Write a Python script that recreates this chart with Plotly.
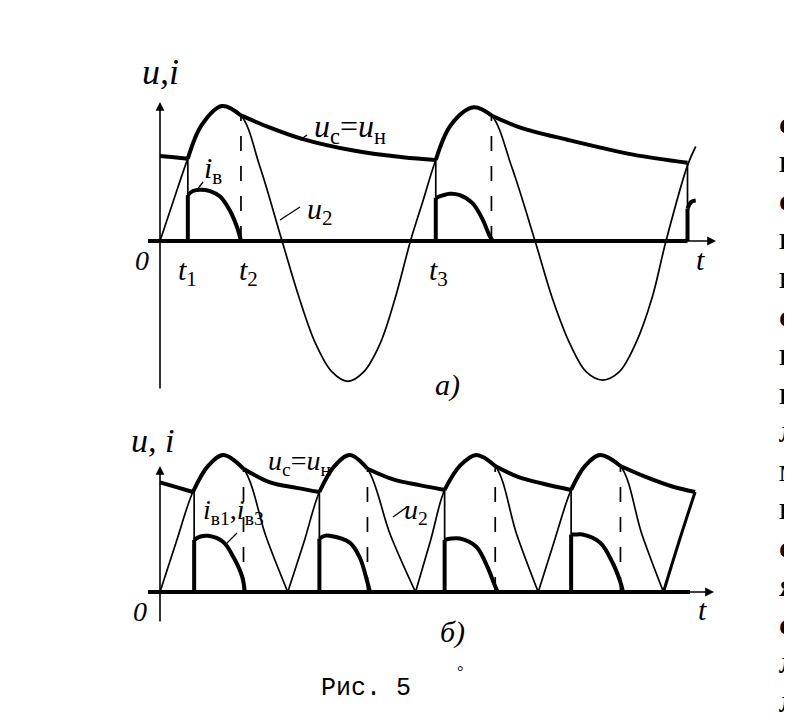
import plotly.graph_objects as go

# ---------------- data (time in ms, values in relative units) ----------------
# panel a) : half-wave rectifier
ta_u2 = [0, 1.1, 2.2, 3.3, 4.9, 6.4, 7.9, 9.65, 11.0, 12.3, 13.6, 14.85, 16.1, 17.4, 18.6,
         19.8, 20.8, 21.8, 23.0, 24.8, 26.2, 27.8, 29.65, 31.0, 32.4, 33.7, 35.0, 36.3,
         37.6, 38.9, 40.0, 41.7, 42.35]
va_u2 = [0, 0.31, 0.61, 0.86, 1.0, 0.93, 0.55, 0, -0.42, -0.76, -0.97, -1.04, -0.97, -0.76, -0.42,
         0, 0.3, 0.6, 0.86, 0.99, 0.93, 0.55, 0, -0.42, -0.76, -0.97, -1.03, -0.97,
         -0.76, -0.42, 0, 0.56, 0.70]

ta_uc = [0, 1.1, 2.2, None, 2.2, 3.3, 4.9, 6.4, None, 6.4, 8.7, 11.3, 15.3, 19.2, 21.8, None,
         21.8, 23.0, 24.8, 26.2, None, 26.2, 28.5, 32.2, 37.4, 41.7]
va_uc = [0.63, 0.62, 0.61, None, 0.61, 0.86, 1.0, 0.93, None, 0.93, 0.84, 0.755, 0.67, 0.62, 0.60, None,
         0.60, 0.86, 0.99, 0.93, None, 0.93, 0.84, 0.75, 0.64, 0.58]

ta_i_pulses = [[2.2, 2.2, 2.6, 3.2, 3.95, 4.75, 5.5, 6.1, 6.4],
               [21.8, 21.8, 22.9, 23.7, 24.7, 25.5, 26.0, 26.3],
               [41.7, 41.7, 42.0, 42.35]]
va_i_pulses = [[0, 0.34, 0.37, 0.38, 0.37, 0.33, 0.23, 0.10, 0],
               [0, 0.32, 0.35, 0.34, 0.28, 0.16, 0.05, 0],
               [0, 0.24, 0.29, 0.30]]
ta_switch = [2.2, 21.8, 41.7]          # t1, t3, next
ta_switch_top = [0.61, 0.60, 0.58]
ta_t2 = [6.4, 26.2]
ta_t2_top = [0.93, 0.93]

# panel б) : bridge rectifier
tb_u2 = [0, 1.3, 2.6, 3.8, 5.0, 6.6, 8.4, 10.1, None,
         10.1, 11.4, 12.6, 13.8, 15.0, 16.4, 18.2, 20.2, None,
         20.2, 21.4, 22.5, 23.7, 25.0, 26.5, 28.2, 29.9, None,
         29.9, 31.2, 32.5, 33.6, 34.8, 36.4, 38.1, 39.8]
vb_u2 = [0, 0.37, 0.73, 0.92, 1.0, 0.9, 0.4, 0, None,
         0, 0.37, 0.73, 0.92, 1.0, 0.9, 0.42, 0, None,
         0, 0.38, 0.745, 0.92, 1.0, 0.92, 0.42, 0, None,
         0, 0.38, 0.745, 0.92, 1.0, 0.92, 0.42, 0]
tb_u2_last = [39.8, 41.0, 42.3]
vb_u2_last = [0, 0.36, 0.73]

tb_uc = [0, 1.3, 2.6, None, 2.6, 3.8, 5.0, 6.6, None, 6.6, 8.7, 10.8, 12.6, None,
         12.6, 13.8, 15.0, 16.4, None, 16.4, 18.5, 20.5, 22.5, None,
         22.5, 23.7, 25.0, 26.5, None, 26.5, 28.3, 30.3, 32.5, None,
         32.5, 33.6, 34.8, 36.4, None, 36.4, 38.4, 40.5, 42.3]
vb_uc = [0.80, 0.765, 0.73, None, 0.73, 0.92, 1.0, 0.9, None, 0.9, 0.80, 0.76, 0.73, None,
         0.73, 0.92, 1.0, 0.9, None, 0.9, 0.82, 0.78, 0.745, None,
         0.745, 0.92, 1.0, 0.92, None, 0.92, 0.84, 0.79, 0.745, None,
         0.745, 0.92, 1.0, 0.92, None, 0.92, 0.84, 0.77, 0.73]

tb_i_pulses = [[2.7, 2.7, 3.2, 3.8, 5.0, 5.8, 6.5, 6.7],
               [12.6, 12.6, 13.0, 13.4, 15.0, 15.8, 16.4, 16.6],
               [22.5, 22.5, 23.0, 23.7, 25.0, 25.9, 26.5, 26.7],
               [32.5, 32.5, 33.0, 33.4, 34.8, 35.8, 36.4, 36.6]]
vb_i_pulses = [[0, 0.38, 0.405, 0.41, 0.365, 0.255, 0.11, 0],
               [0, 0.39, 0.41, 0.41, 0.36, 0.25, 0.07, 0],
               [0, 0.38, 0.39, 0.39, 0.33, 0.18, 0.04, 0],
               [0, 0.42, 0.42, 0.42, 0.36, 0.21, 0.07, 0]]
tb_switch = [2.7, 12.6, 22.5, 32.5]
tb_switch_top = [0.73, 0.73, 0.745, 0.745]
tb_t2 = [6.6, 16.4, 26.5, 36.4]
tb_t2_top = [0.9, 0.9, 0.92, 0.92]

margin_letters = ["С", "Н", "С", "Н", "П", "С", "Р", "Р", "Л", "М", "П", "С", "Я", "С", "Л", "Л"]

# ---------------- geometry (page pixels; the page body has an 8 px margin) ----------------
OFF = 8
W, H = 792 - OFF, 722 - 2 * OFF
X0, PXMS = 160, 12.65
A_Z, A_S = 241, 135
B_Z, B_S = 592, 137

def t_of(px):
    return (px - X0) / PXMS

def va_of(py):
    return (A_Z - py) / A_S

def vb_of(py):
    return (B_Z - py) / B_S

fig = go.Figure()
K = "black"
THICK, THIN = 4, 1.7

def line(x, y, w, ya="y", shape="linear", dash="solid"):
    fig.add_trace(go.Scatter(x=x, y=y, mode="lines", yaxis=ya, hoverinfo="skip",
                             showlegend=False,
                             line=dict(color=K, width=w, shape=shape, dash=dash,
                                       smoothing=1.0)))

# ---- panel a ----
line([t_of(148), 41.7], [0, 0], THICK)                 # thick i = 0 baseline
line(ta_u2, va_u2, THIN, shape="spline")
line(ta_uc, va_uc, THICK, shape="spline")
for tx, vy in zip(ta_i_pulses, va_i_pulses):
    line(tx[:2], vy[:2], THICK)
    line(tx[1:], vy[1:], THICK, shape="spline")
for tx, top, p in zip(ta_switch, ta_switch_top, va_i_pulses):
    line([tx, tx], [p[1], top], THIN)
for tx, top in zip(ta_t2, ta_t2_top):
    line([tx, tx], [0, top], THIN, dash="longdash")

# ---- panel b ----
line([t_of(148), 41.9], [0, 0], THICK, ya="y2")
line(tb_u2, vb_u2, THIN, ya="y2", shape="spline")
line(tb_u2_last, vb_u2_last, 3, ya="y2", shape="spline")
line(tb_uc, vb_uc, THICK, ya="y2", shape="spline")
for tx, vy in zip(tb_i_pulses, vb_i_pulses):
    line(tx[:2], vy[:2], THICK, ya="y2")
    line(tx[1:], vy[1:], THICK, ya="y2", shape="spline")
for tx, top, p in zip(tb_switch, tb_switch_top, vb_i_pulses):
    line([tx, tx], [p[1], top], THIN, ya="y2")
for tx, top in zip(tb_t2, tb_t2_top):
    line([tx, tx], [0, top], THIN, ya="y2", dash="longdash")

# leader lines
line([t_of(197), t_of(203)], [va_of(190), va_of(182)], 1.3)
line([t_of(300), t_of(307)], [va_of(140), va_of(135)], 1.3)
line([t_of(280), t_of(300)], [va_of(220), va_of(207)], 1.3)
line([t_of(227), t_of(237)], [vb_of(543), vb_of(533)], 1.3, ya="y2")
line([t_of(393), t_of(407)], [vb_of(517), vb_of(507)], 1.3, ya="y2")

ann = []

def arrow(x0, y0, x1, y1, yref):
    ann.append(dict(x=x1, y=y1, ax=x0, ay=y0, xref="x", yref=yref, axref="x", ayref=yref,
                    text="", showarrow=True, arrowhead=2, arrowsize=1.1, arrowwidth=1.6,
                    arrowcolor=K))

# axes
arrow(t_of(148), 0, t_of(716), 0, "y")
arrow(0, va_of(390), 0, va_of(102), "y")
arrow(t_of(148), 0, t_of(714), 0, "y2")
arrow(0, vb_of(623), 0, vb_of(466), "y2")

SERIF = "Liberation Serif"

def lab(px, py, text, size, family=SERIF, xanchor="center"):
    ann.append(dict(x=(px - OFF) / W, y=1 - (py - OFF) / H, xref="paper", yref="paper",
                    text=text, showarrow=False, xanchor=xanchor, yanchor="middle",
                    font=dict(family=family, size=size, color=K)))

# panel a labels
lab(160, 72, "<i>u,i</i>", 36)
lab(142, 261, "<i>0</i>", 28)
lab(187, 272, "<i>t</i><sub>1</sub>", 30)
lab(248, 272, "<i>t</i><sub>2</sub>", 30)
lab(438, 272, "<i>t</i><sub>3</sub>", 30)
lab(700, 260, "<i>t</i>", 30)
lab(213, 170, "<i>i</i><sub>в</sub>", 30)
lab(350, 128, "<i>u</i><sub>c</sub>=<i>u</i><sub>н</sub>", 32)
lab(320, 211, "<i>u</i><sub>2</sub>", 30)
lab(448, 385, "<i>a)</i>", 30)

# panel b labels
lab(152, 440, "<i>u, i</i>", 34)
lab(140, 611, "<i>0</i>", 28)
lab(300, 462, "<i>u</i><sub>c</sub>=<i>u</i><sub>н</sub>", 28)
lab(233, 511, "<i>i</i><sub>в1</sub>,<i>i</i><sub>в3</sub>", 28)
lab(416, 512, "<i>u</i><sub>2</sub>", 28)
lab(702, 609, "<i>t</i>", 30)
lab(452, 632, "<i>б)</i>", 30)
lab(460, 671, "°", 16)
lab(366, 688, "Рис. 5", 25, family="Liberation Mono")

for k, ch in enumerate(margin_letters):
    lab(777, 126 + 38.5 * k, "<b>" + ch + "</b>", 24, xanchor="left")

fig.update_layout(
    width=W, height=H, margin=dict(l=0, r=0, t=0, b=0, pad=0, autoexpand=False),
    paper_bgcolor="white", plot_bgcolor="white",
    xaxis=dict(range=[t_of(OFF), t_of(OFF + W)], visible=False, domain=[0, 1], fixedrange=True),
    yaxis=dict(range=[va_of(OFF + H), va_of(OFF)], visible=False, domain=[0, 1], fixedrange=True),
    yaxis2=dict(range=[vb_of(OFF + H), vb_of(OFF)], visible=False, overlaying="y", fixedrange=True),
    annotations=ann, showlegend=False,
)

fig.write_html("out.html")
